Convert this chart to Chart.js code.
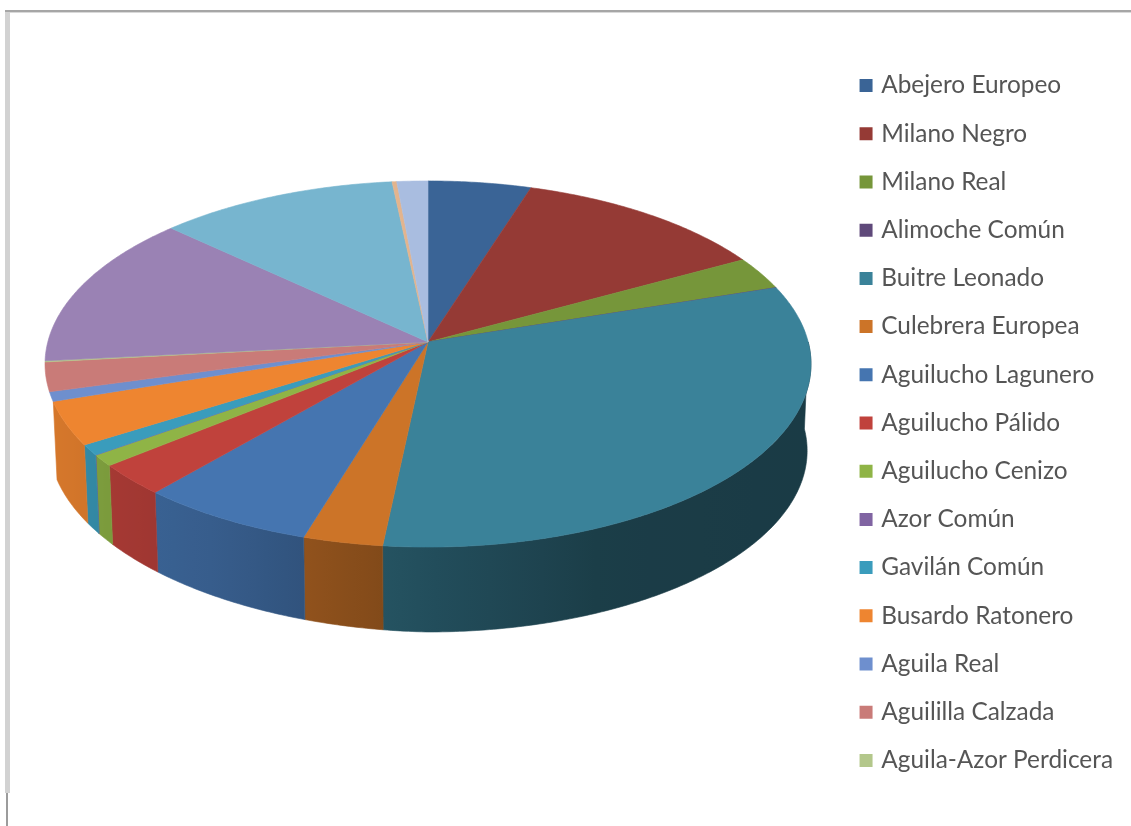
<!DOCTYPE html>
<html lang="es">
<head>
<meta charset="utf-8">
<title>Rapaces</title>
<script src="https://cdn.jsdelivr.net/npm/chart.js@4/dist/chart.umd.min.js"></script>
<style>
html,body{margin:0;padding:0;background:#fff}
#wrap{position:relative;width:1131px;height:826px}
canvas{display:block}
</style>
</head>
<body>
<div id="wrap"><canvas id="c" width="1131" height="826"></canvas></div>
<script>
// Species named in the legend
const categories = [
  'Abejero Europeo','Milano Negro','Milano Real','Alimoche Común','Buitre Leonado',
  'Culebrera Europea','Aguilucho Lagunero','Aguilucho Pálido','Aguilucho Cenizo',
  'Azor Común','Gavilán Común','Busardo Ratonero','Aguila Real','Aguililla Calzada',
  'Aguila-Azor Perdicera'
];
// Share of each slice in percent; the last four have no legend entry
const shares = [
  4.88,12.12,2.94,0.02,31.73,3.00,6.64,2.78,1.00,0.02,0.93,3.83,0.83,2.56,0.10,
  13.60,11.36,0.22,1.47
];
const faceColors = [
  '#3A6496','#953A35','#76963A','#5F497A','#3A8299','#CC7428','#4575B0','#C0423C',
  '#8FB446','#8064A2','#3A9CBC','#EE8530','#6E8FCE','#C97B78','#B3C78B',
  '#9A82B4','#77B5CF','#E3B48D','#A9BDE0'
];

// Perspective projection of the tilted disc
const tilt = {apexX:428, apexY:342, a:180.4, k:-0.1202, c:380.2, drop:87, floorScale:0.99,
              floorSkew:9, wallEnd:251.4 * Math.PI / 180};
// Brightness of the side wall across the page: [x, factor]
const wallLight = [[50,0.9],[230,0.78],[400,0.62],[600,0.47],[805,0.45]];

function rimPoint(theta, floor){
  const u = Math.sin(theta), v = -Math.cos(theta);
  const w = 1 + tilt.k * v, s = floor ? tilt.floorScale : 1;
  const lift = floor ? tilt.drop + tilt.floorSkew * Math.min(0, u) : 0;
  return [tilt.apexX + s * tilt.c * u / w, tilt.apexY + lift + s * tilt.a * v / w];
}
function rimPath(ctx, from, to, floor, moveFirst){
  const steps = Math.max(2, Math.ceil(Math.abs(to - from) / 0.01));
  for(let i = 0; i <= steps; i++){
    const p = rimPoint(from + (to - from) * i / steps, floor);
    if(i === 0 && moveFirst) ctx.moveTo(p[0], p[1]); else ctx.lineTo(p[0], p[1]);
  }
}
function shade(hex, f){
  const n = parseInt(hex.slice(1), 16);
  const ch = s => Math.round(((n >> s) & 255) * f);
  return `rgb(${ch(16)},${ch(8)},${ch(0)})`;
}
function wallFactor(x){
  if(x <= wallLight[0][0]) return wallLight[0][1];
  for(let i = 1; i < wallLight.length; i++){
    const [x1, f1] = wallLight[i], [x0, f0] = wallLight[i-1];
    if(x <= x1) return f0 + (f1 - f0) * (x - x0) / (x1 - x0);
  }
  return wallLight[wallLight.length-1][1];
}

// Frame lines around the sheet
const framePlugin = {
  id:'frame',
  beforeDraw(chart){
    const g = chart.ctx;
    g.save();
    g.fillStyle = '#fff'; g.fillRect(0,0,1131,826);
    g.fillStyle = '#A6A6A6'; g.fillRect(5,10,1126,2);
    g.fillStyle = '#D9D9D9'; g.fillRect(5,12,1126,1);
    g.fillStyle = '#D2D2D2'; g.fillRect(5,12,5,781);
    g.fillStyle = '#9C9C9C'; g.fillRect(6,793,2,33);
    g.restore();
  }
};

// Replaces the flat slices with a tilted disc built from the arc elements' angles
const discPlugin = {
  id:'disc',
  beforeDatasetDraw(chart){
    const g = chart.ctx, arcs = chart.getDatasetMeta(0).data;
    const spans = arcs.map(a => [a.startAngle + Math.PI/2, a.endAngle + Math.PI/2]);
    g.save();
    g.lineJoin = 'round';
    // side wall, front part only
    spans.forEach((s, i) => {
      const from = Math.max(s[0], Math.PI/2), to = Math.min(s[1], tilt.wallEnd);
      if(to <= from) return;
      const x0 = rimPoint(from, false)[0], x1 = rimPoint(to, false)[0];
      const grad = g.createLinearGradient(x0, 0, x1 === x0 ? x0 + 1 : x1, 0);
      for(let t = 0; t <= 8; t++){
        grad.addColorStop(t / 8, shade(faceColors[i], wallFactor(x0 + (x1 - x0) * t / 8)));
      }
      g.beginPath();
      rimPath(g, from, to, false, true);
      rimPath(g, to, from, true, false);
      g.closePath();
      g.fillStyle = grad; g.strokeStyle = grad; g.lineWidth = 0.6;
      g.fill(); g.stroke();
    });
    // top face
    spans.forEach((s, i) => {
      g.beginPath();
      g.moveTo(tilt.apexX, tilt.apexY);
      rimPath(g, s[0], s[1], false, false);
      g.closePath();
      g.fillStyle = faceColors[i]; g.strokeStyle = faceColors[i]; g.lineWidth = 0.6;
      g.fill(); g.stroke();
    });
    g.restore();
    return false;
  }
};

new Chart(document.getElementById('c'), {
  type:'pie',
  data:{
    labels:categories,
    datasets:[{data:shares, backgroundColor:faceColors, borderWidth:0}]
  },
  plugins:[framePlugin, discPlugin],
  options:{
    responsive:false,
    animation:false,
    layout:{padding:{top:20, right:8, bottom:0, left:0}},
    plugins:{
      tooltip:{enabled:false},
      legend:{
        position:'right',
        align:'center',
        labels:{
          boxWidth:6, boxHeight:6, padding:23.8, color:'#555555',
          font:{family:'Lato', size:24.4},
          generateLabels(chart){
            const base = Chart.overrides.pie.plugins.legend.labels.generateLabels(chart);
            return base.map(item => ({...item, strokeStyle:item.fillStyle, lineWidth:7}));
          }
        }
      }
    }
  }
});
</script>
</body>
</html>
